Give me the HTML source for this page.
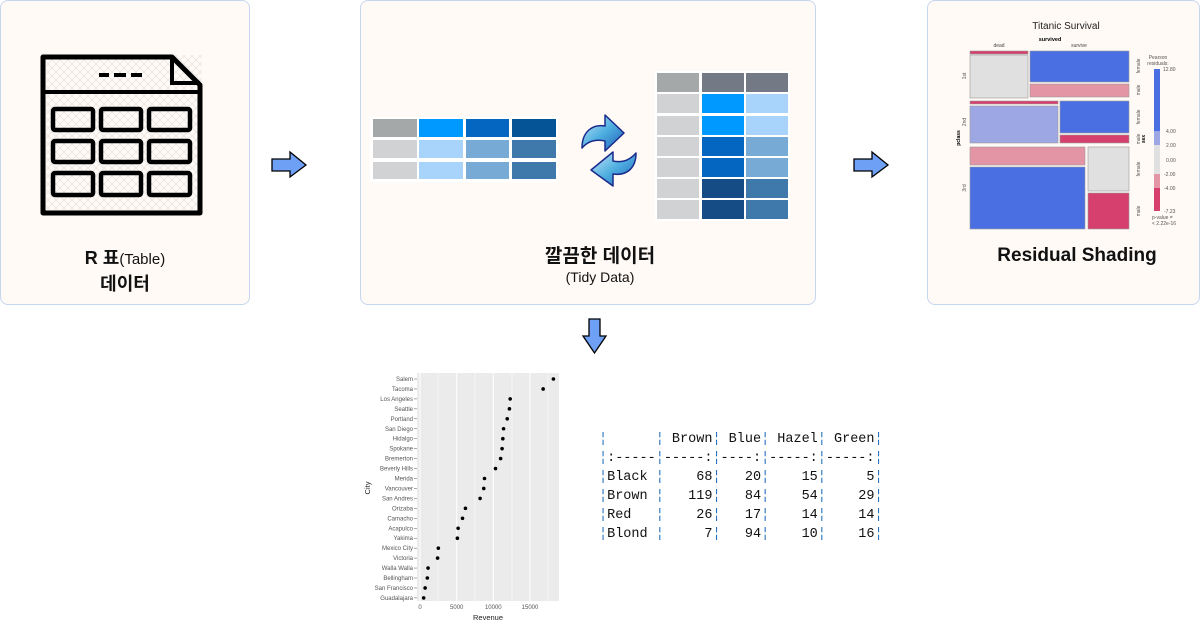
<!DOCTYPE html>
<html><head><meta charset="utf-8"><style>
body{margin:0;background:#fff;width:1200px;height:629px;overflow:hidden;position:relative;font-family:"Liberation Sans","Noto Sans CJK KR",sans-serif}
.box{position:absolute;background:#fffaf6;border:1px solid #c5d7ee;border-radius:8px;box-sizing:border-box}
.t{position:absolute;text-align:center;color:#111}
pre{position:absolute;margin:0;font-family:"Liberation Mono","DejaVu Sans Mono",monospace;font-size:13.5px;line-height:19px;color:#111}
pre b{color:#2a72bd;font-weight:normal}
</style></head><body>
<div class="box" style="left:0;top:0;width:250px;height:305px"></div>
<div class="box" style="left:360px;top:0;width:456px;height:305px"></div>
<div class="box" style="left:927px;top:0;width:273px;height:305px"></div>

<svg width="1200" height="629" style="position:absolute;left:0;top:0" font-family="Liberation Sans, sans-serif">
<defs>
<pattern id="hx" width="8" height="8" patternUnits="userSpaceOnUse"><path d="M0 0L8 8M8 0L0 8" stroke="#e6e2e0" stroke-width="0.7"/></pattern>
<linearGradient id="ag" x1="0" y1="0" x2="1" y2="1"><stop offset="0" stop-color="#cde6f7"/><stop offset="0.5" stop-color="#4fb0e0"/><stop offset="1" stop-color="#1e5ab8"/></linearGradient>
</defs>
<rect x="41" y="55" width="161" height="160" fill="url(#hx)"/>
<path d="M43 57H172L200 85V213H43Z" fill="none" stroke="#000" stroke-width="5" stroke-linejoin="round"/>
<path d="M172 57V83H200" fill="none" stroke="#000" stroke-width="4"/>
<line x1="43" y1="92" x2="200" y2="92" stroke="#000" stroke-width="4"/>
<g stroke="#000" stroke-width="4"><line x1="99" y1="75" x2="109" y2="75"/><line x1="114" y1="75" x2="126" y2="75"/><line x1="131" y1="75" x2="142" y2="75"/></g>
<g fill="none" stroke="#000" stroke-width="4.5">
<rect x="53" y="109" width="40" height="21" rx="2"/><rect x="101" y="109" width="40" height="21" rx="2"/><rect x="149" y="109" width="41" height="21" rx="2"/>
<rect x="53" y="141" width="40" height="21" rx="2"/><rect x="101" y="141" width="40" height="21" rx="2"/><rect x="149" y="141" width="41" height="21" rx="2"/>
<rect x="53" y="173" width="40" height="22" rx="2"/><rect x="101" y="173" width="40" height="22" rx="2"/><rect x="149" y="173" width="41" height="22" rx="2"/>
</g>
<path d="M272 159H290V152L306 165L290 177V171H272Z" fill="#6ea0f5" stroke="#000" stroke-width="1.3"/>
<path d="M854 159H872V152L888 165L872 177V171H854Z" fill="#6ea0f5" stroke="#000" stroke-width="1.3"/>
<path d="M589 319H600V336H606L594.5 353L583 336H589Z" fill="#6ea0f5" stroke="#000" stroke-width="1.3"/>
<rect x="370" y="117" width="188" height="65" fill="#fff"/>
<g>
<rect x="373" y="119" width="44" height="18" fill="#a5a8a8"/><rect x="419" y="119" width="44" height="18" fill="#0099ff"/><rect x="466" y="119" width="43" height="18" fill="#0466c0"/><rect x="512" y="119" width="44" height="18" fill="#055596"/>
<rect x="373" y="140" width="44" height="18" fill="#d0d2d4"/><rect x="419" y="140" width="44" height="18" fill="#a8d4fc"/><rect x="466" y="140" width="43" height="18" fill="#78aad6"/><rect x="512" y="140" width="44" height="18" fill="#3f78aa"/>
<rect x="373" y="162" width="44" height="17" fill="#d0d2d4"/><rect x="419" y="162" width="44" height="17" fill="#a8d4fc"/><rect x="466" y="162" width="43" height="17" fill="#78aad6"/><rect x="512" y="162" width="44" height="17" fill="#3f78aa"/>
</g>
<rect x="655" y="71" width="135" height="150" fill="#fff"/>
<g>
<rect x="657" y="73" width="42" height="19" fill="#a5a8a8"/><rect x="702" y="73" width="42" height="19" fill="#737985"/><rect x="746" y="73" width="42" height="19" fill="#737985"/>
<rect x="657" y="94" width="42" height="19" fill="#d0d2d4"/><rect x="702" y="94" width="42" height="19" fill="#0099ff"/><rect x="746" y="94" width="42" height="19" fill="#a8d4fc"/>
<rect x="657" y="116" width="42" height="19" fill="#d0d2d4"/><rect x="702" y="116" width="42" height="19" fill="#0099ff"/><rect x="746" y="116" width="42" height="19" fill="#a8d4fc"/>
<rect x="657" y="137" width="42" height="19" fill="#d0d2d4"/><rect x="702" y="137" width="42" height="19" fill="#0466c0"/><rect x="746" y="137" width="42" height="19" fill="#78aad6"/>
<rect x="657" y="158" width="42" height="19" fill="#d0d2d4"/><rect x="702" y="158" width="42" height="19" fill="#0466c0"/><rect x="746" y="158" width="42" height="19" fill="#78aad6"/>
<rect x="657" y="179" width="42" height="19" fill="#d0d2d4"/><rect x="702" y="179" width="42" height="19" fill="#164c85"/><rect x="746" y="179" width="42" height="19" fill="#3f78aa"/>
<rect x="657" y="200" width="42" height="19" fill="#d0d2d4"/><rect x="702" y="200" width="42" height="19" fill="#164c85"/><rect x="746" y="200" width="42" height="19" fill="#3f78aa"/>
</g>
<path d="M582 148C582 132 592 124 605 126V115L624 133L605 151V141C596 139 588 141 582 148Z" fill="url(#ag)" stroke="#1a2a8a" stroke-width="1.5" stroke-linejoin="round"/>
<path d="M636 153C636 169 626 176 613 174V186L591 170L613 152V161C622 163 630 160 636 153Z" fill="url(#ag)" stroke="#1a2a8a" stroke-width="1.5" stroke-linejoin="round"/>
<text x="1066" y="29" font-size="10" text-anchor="middle" fill="#222">Titanic Survival</text>
<text x="1050" y="41" font-size="5.5" font-weight="bold" text-anchor="middle">survived</text>
<text x="999" y="47" font-size="5" text-anchor="middle" fill="#444">dead</text>
<text x="1079" y="47" font-size="5" text-anchor="middle" fill="#444">survive</text>
<g stroke="#999" stroke-width="0.6">
<rect x="970" y="51" width="58" height="3" fill="#d6406e"/>
<rect x="970" y="55" width="58" height="43" fill="#e0e0e0"/>
<rect x="1030" y="51" width="99" height="31" fill="#4a6fe3"/>
<rect x="1030" y="84" width="99" height="13" fill="#e495a5"/>
<rect x="970" y="101" width="88" height="3" fill="#d6406e"/>
<rect x="970" y="106" width="88" height="37" fill="#9da7e4"/>
<rect x="1060" y="101" width="69" height="32" fill="#4a6fe3"/>
<rect x="1060" y="135" width="69" height="8" fill="#d6406e"/>
<rect x="970" y="147" width="115" height="18" fill="#e495a5"/>
<rect x="970" y="167" width="115" height="62" fill="#4a6fe3"/>
<rect x="1088" y="147" width="41" height="44" fill="#e0e0e0"/>
<rect x="1088" y="193" width="41" height="36" fill="#d6406e"/>
</g>
<g font-size="5" fill="#555">
<text transform="translate(966,76) rotate(-90)" text-anchor="middle">1st</text>
<text transform="translate(966,122) rotate(-90)" text-anchor="middle">2nd</text>
<text transform="translate(966,188) rotate(-90)" text-anchor="middle">3rd</text>
<text transform="translate(960,138) rotate(-90)" text-anchor="middle" font-weight="bold" fill="#000">pclass</text>
<text transform="translate(1140,66) rotate(-90)" text-anchor="middle">female</text>
<text transform="translate(1140,90) rotate(-90)" text-anchor="middle">male</text>
<text transform="translate(1140,117) rotate(-90)" text-anchor="middle">female</text>
<text transform="translate(1140,139) rotate(-90)" text-anchor="middle">male</text>
<text transform="translate(1145,139) rotate(-90)" text-anchor="middle" font-weight="bold" fill="#000">sex</text>
<text transform="translate(1140,169) rotate(-90)" text-anchor="middle">female</text>
<text transform="translate(1140,211) rotate(-90)" text-anchor="middle">male</text>
<text x="1158" y="59" text-anchor="middle">Pearson</text>
<text x="1158" y="65" text-anchor="middle">residuals:</text>
<text x="1163" y="71">12.80</text><text x="1166" y="133">4.00</text><text x="1166" y="147">2.00</text><text x="1166" y="162">0.00</text><text x="1164" y="176">-2.00</text><text x="1164" y="190">-4.00</text><text x="1164" y="213">-7.23</text>
<text x="1152" y="219">p-value =</text><text x="1152" y="225">&lt; 2.22e-16</text>
</g>
<rect x="1154" y="69" width="6" height="62" fill="#4a6fe3"/>
<rect x="1154" y="131" width="6" height="14" fill="#9da7e4"/>
<rect x="1154" y="145" width="6" height="29" fill="#e0e0e0"/>
<rect x="1154" y="174" width="6" height="14" fill="#e495a5"/>
<rect x="1154" y="188" width="6" height="23" fill="#d6406e"/>
<rect x="417" y="373" width="142" height="228" fill="#ebebeb"/>
<g stroke="#fff" stroke-width="0.5"><line x1="438" y1="373" x2="438" y2="601"/><line x1="475" y1="373" x2="475" y2="601"/><line x1="512" y1="373" x2="512" y2="601"/><line x1="548" y1="373" x2="548" y2="601"/></g>
<g stroke="#fff" stroke-width="1"><line x1="420" y1="373" x2="420" y2="601"/><line x1="456.7" y1="373" x2="456.7" y2="601"/><line x1="493.3" y1="373" x2="493.3" y2="601"/><line x1="530" y1="373" x2="530" y2="601"/></g>
<g id="dp" font-size="6" fill="#555" text-anchor="end"></g>
<g font-size="6" fill="#555" text-anchor="middle"><text x="420" y="609">0</text><text x="456.7" y="609">5000</text><text x="493.3" y="609">10000</text><text x="530" y="609">15000</text></g>
<text x="488" y="620" font-size="7.5" text-anchor="middle" fill="#222">Revenue</text>
<text transform="translate(370,488) rotate(-90)" font-size="7.5" text-anchor="middle" fill="#222">City</text>
</svg>
<script>
var c=[["Salem",18200],["Tacoma",16800],["Los Angeles",12300],["Seattle",12200],["Portland",11900],["San Diego",11400],["Hidalgo",11300],["Spokane",11200],["Bremerton",11000],["Beverly Hills",10300],["Merida",8800],["Vancouver",8700],["San Andres",8200],["Orizaba",6200],["Camacho",5800],["Acapulco",5200],["Yakima",5100],["Mexico City",2500],["Victoria",2400],["Walla Walla",1100],["Bellingham",1000],["San Francisco",700],["Guadalajara",500]];
var g=document.getElementById("dp"),s="";
c.forEach(function(d,i){var y=379+i*9.95;
s+='<text x="413" y="'+(y+2)+'">'+d[0]+'</text><line x1="414" y1="'+y+'" x2="417" y2="'+y+'" stroke="#555" stroke-width="0.5"/><circle cx="'+(420+d[1]*0.00733)+'" cy="'+y+'" r="1.8" fill="#000"/>';});
g.innerHTML=s;
</script>

<div class="t" style="left:0;width:250px;top:246px;font-size:18px;font-weight:bold;line-height:24px">R 표<span style="font-weight:normal;font-size:15px">(Table)</span><br>데이터</div>
<div class="t" style="left:360px;width:480px;top:245px;font-size:19px;font-weight:bold;line-height:24px">깔끔한 데이터</div>
<div class="t" style="left:360px;width:480px;top:269px;font-size:14px">(Tidy Data)</div>
<div class="t" style="left:927px;width:300px;top:245px;font-size:19px;font-weight:bold">Residual Shading</div>

<pre style="left:599px;top:430px"><b>¦</b>      <b>¦</b> Brown<b>¦</b> Blue<b>¦</b> Hazel<b>¦</b> Green<b>¦</b>
<b>¦</b>:-----<b>¦</b>-----:<b>¦</b>----:<b>¦</b>-----:<b>¦</b>-----:<b>¦</b>
<b>¦</b>Black <b>¦</b>    68<b>¦</b>   20<b>¦</b>    15<b>¦</b>     5<b>¦</b>
<b>¦</b>Brown <b>¦</b>   119<b>¦</b>   84<b>¦</b>    54<b>¦</b>    29<b>¦</b>
<b>¦</b>Red   <b>¦</b>    26<b>¦</b>   17<b>¦</b>    14<b>¦</b>    14<b>¦</b>
<b>¦</b>Blond <b>¦</b>     7<b>¦</b>   94<b>¦</b>    10<b>¦</b>    16<b>¦</b></pre>
</body></html>
